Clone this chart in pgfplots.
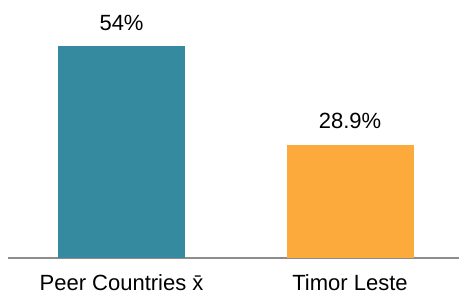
\documentclass[border=0pt]{standalone}
\usepackage{fontspec}
\setmainfont{Liberation Sans}
\usepackage{pgfplots}
\pgfplotsset{compat=1.18}
\definecolor{tealbar}{HTML}{368A9F}
\definecolor{orangebar}{HTML}{FDAA3C}
\begin{document}
\begin{tikzpicture}
\useasboundingbox (-8pt,-37pt) rectangle (451pt,258pt);
\begin{axis}[
  at={(0pt,0pt)}, anchor=south west,
  scale only axis, width=451pt, height=258pt,
  xmin=-0.497, xmax=1.477, ymin=0, ymax=65.7,
  axis y line=none, axis x line=bottom,
  x axis line style={draw=gray!90, line width=1.5pt, -},
  xtick={0,1}, xticklabels={Peer Countries x̄, Timor Leste},
  major tick length=0pt, ytick=\empty,
  /pgf/number format/assume math mode=true,
  xticklabel style={font=\fontsize{22}{26}\selectfont, yshift=-13pt},
  ybar, bar width=127pt,
  nodes near coords={\pgfmathprintnumber{\pgfplotspointmeta}\%},
  nodes near coords style={font=\fontsize{22}{26}\selectfont, yshift=12pt, black},
  clip=false,
]
\addplot[fill=tealbar, draw=none, bar shift=0pt] coordinates {(0,54)};
\addplot[fill=orangebar, draw=none, bar shift=0pt] coordinates {(1,28.9)};
\end{axis}
\end{tikzpicture}
\end{document}
